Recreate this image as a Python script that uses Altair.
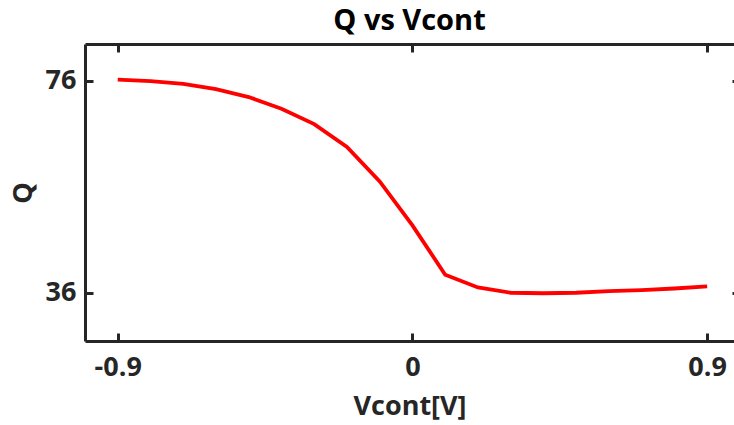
import altair as alt
import pandas as pd

# Control voltage sweep and the resulting quality factor
vcont = [-0.9, -0.8, -0.7, -0.6, -0.5, -0.4, -0.3, -0.2, -0.1, 0.0,
         0.1, 0.2, 0.3, 0.4, 0.5, 0.6, 0.7, 0.8, 0.9]
q_val = [76.2, 75.9, 75.4, 74.4, 72.9, 70.7, 67.8, 63.5, 57.0, 48.7,
         39.4, 37.0, 36.0, 35.9, 36.0, 36.3, 36.5, 36.8, 37.2]

x_ticks = [-0.9, 0, 0.9]
y_ticks = [36, 76]

df = pd.DataFrame({"Vcont": vcont, "Q": q_val})

FONT = "Open Sans"
INK = "#262626"
X_DOM = [-1.0, 0.982]
Y_DOM = [26.9, 82.9]

xs = alt.Scale(domain=X_DOM, nice=False, zero=False)
ys = alt.Scale(domain=Y_DOM, nice=False, zero=False)

base = alt.Chart(df)


def bare_axis(orient, values, offset=0, tick=0, domain=False):
    kw = dict(orient=orient, values=values, labels=False, title=None,
              grid=False, domain=domain, ticks=tick > 0, offset=offset,
              domainColor=INK, domainWidth=3, tickColor=INK, tickWidth=3)
    if tick > 0:
        kw["tickSize"] = tick
    return alt.Axis(**kw)


# main line with bottom/left labelled axes
line = base.mark_line(color="#ff0000", strokeWidth=3.8).encode(
    x=alt.X("Vcont:Q", scale=xs,
            axis=alt.Axis(orient="bottom", values=x_ticks,
                          labelExpr="replace(format(datum.value, '~g'), '\u2212', '-')",
                          title="Vcont[V]", grid=False, ticks=False,
                          domainColor=INK, domainWidth=3,
                          labelFont=FONT, labelFontSize=27, labelFontWeight="bold",
                          labelColor=INK, labelPadding=13,
                          titleFont=FONT, titleFontSize=27, titleFontWeight="bold",
                          titleColor=INK, titlePadding=13)),
    y=alt.Y("Q:Q", scale=ys,
            axis=alt.Axis(orient="left", values=y_ticks, title="Q", grid=False,
                          ticks=False, domainColor=INK, domainWidth=3,
                          labelFont=FONT, labelFontSize=27, labelFontWeight="bold",
                          labelColor=INK, labelPadding=9,
                          titleFont=FONT, titleFontSize=27, titleFontWeight="bold",
                          titleColor=INK, titlePadding=8)),
)

# inward tick marks on bottom and left edges
ticks_bl = base.mark_line(opacity=0).encode(
    x=alt.X("Vcont:Q", scale=xs, axis=bare_axis("bottom", x_ticks, offset=-8, tick=8)),
    y=alt.Y("Q:Q", scale=ys, axis=bare_axis("left", y_ticks, offset=-8, tick=8)),
)

# top border line, plus the stubs of the right-hand ticks
frame_top = base.mark_line(opacity=0).encode(
    x=alt.X("Vcont:Q", scale=xs, axis=bare_axis("top", x_ticks, domain=True)),
    y=alt.Y("Q:Q", scale=ys, axis=bare_axis("right", y_ticks, offset=-2, tick=2)),
)

# inward tick marks on the top edge
ticks_top = base.mark_line(opacity=0).encode(
    x=alt.X("Vcont:Q", scale=xs, axis=bare_axis("top", x_ticks, offset=-8, tick=8)),
    y=alt.Y("Q:Q", scale=ys, axis=None),
)

chart = (
    alt.layer(line, ticks_bl, frame_top, ticks_top)
    .resolve_axis(x="independent", y="independent")
    .properties(
        width=649, height=297,
        autosize=alt.AutoSizeParams(type="none"),
        padding={"left": 85, "top": 44, "right": 0, "bottom": 84},
        title=alt.TitleParams("Q vs Vcont", font=FONT, fontSize=29,
                              fontWeight="bold", color="#000000", offset=7,
                              anchor="middle"),
        background="white",
    )
    .configure_view(stroke=None)
)

chart.save("out.html", embed_options={"renderer": "svg", "actions": False})
